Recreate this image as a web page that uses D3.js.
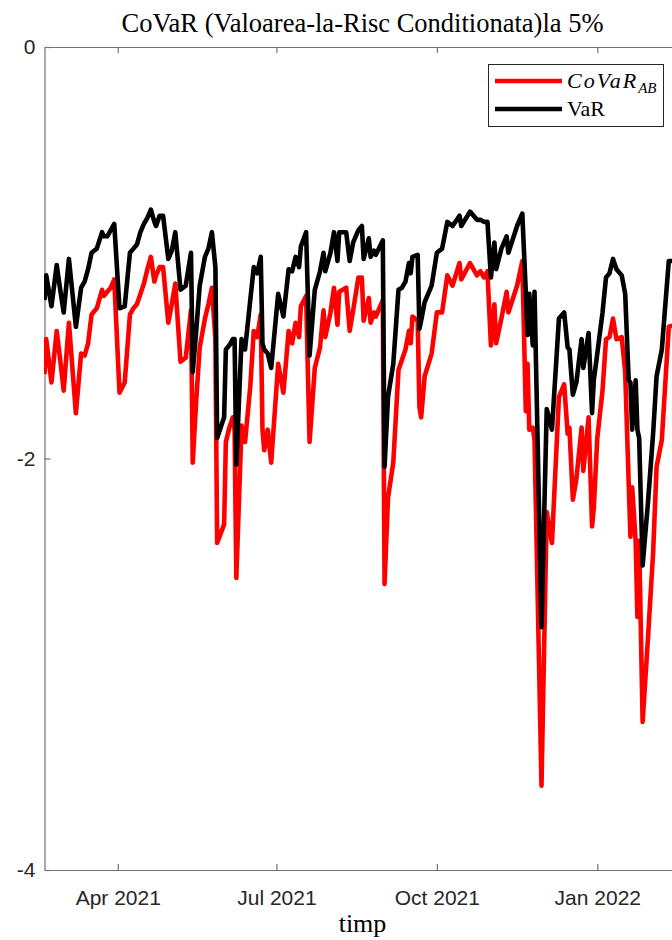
<!DOCTYPE html>
<html>
<head>
<meta charset="utf-8">
<script src="https://cdn.jsdelivr.net/npm/d3@7"></script>
<style>
  body { margin: 0; background: #fff; }
  svg { display: block; }
</style>
</head>
<body>
<div id="chart"></div>
<script>
// dates of the readings (two series share them)
var dates = [
  "2021-02-18","2021-02-19","2021-02-22","2021-02-25","2021-02-27","2021-03-01","2021-03-04","2021-03-08",
  "2021-03-11","2021-03-13","2021-03-15","2021-03-17","2021-03-20","2021-03-23","2021-03-24","2021-03-26",
  "2021-03-28","2021-03-30","2021-04-02","2021-04-05","2021-04-08","2021-04-10","2021-04-12","2021-04-14",
  "2021-04-16","2021-04-18","2021-04-20","2021-04-22","2021-04-23","2021-04-25","2021-04-27","2021-04-30",
  "2021-05-02","2021-05-04","2021-05-07","2021-05-10","2021-05-13","2021-05-14","2021-05-16","2021-05-18",
  "2021-05-21","2021-05-23","2021-05-25","2021-05-27","2021-05-28","2021-06-01","2021-06-02","2021-06-04",
  "2021-06-06","2021-06-07","2021-06-08","2021-06-11","2021-06-13","2021-06-16","2021-06-18","2021-06-20",
  "2021-06-22","2021-06-23","2021-06-24","2021-06-26","2021-06-28","2021-07-02","2021-07-05","2021-07-08",
  "2021-07-10","2021-07-12","2021-07-14","2021-07-15","2021-07-18","2021-07-20","2021-07-23","2021-07-26",
  "2021-07-28","2021-07-29","2021-08-01","2021-08-03","2021-08-05","2021-08-06","2021-08-10","2021-08-12",
  "2021-08-14","2021-08-17","2021-08-19","2021-08-20","2021-08-23","2021-08-24","2021-08-26","2021-08-27",
  "2021-08-31","2021-09-01","2021-09-03","2021-09-06","2021-09-09","2021-09-11","2021-09-13","2021-09-15",
  "2021-09-16","2021-09-17","2021-09-20","2021-09-21","2021-09-22","2021-09-24","2021-09-28","2021-10-01",
  "2021-10-04","2021-10-07","2021-10-10","2021-10-14","2021-10-15","2021-10-20","2021-10-24","2021-10-26",
  "2021-10-28","2021-10-30","2021-11-01","2021-11-03","2021-11-04","2021-11-07","2021-11-10","2021-11-11",
  "2021-11-16","2021-11-19","2021-11-21","2021-11-22","2021-11-23","2021-11-25","2021-11-26","2021-11-30",
  "2021-12-03","2021-12-06","2021-12-10","2021-12-13","2021-12-15","2021-12-16","2021-12-18","2021-12-20",
  "2021-12-23","2021-12-24","2021-12-27","2021-12-29","2021-12-30","2022-01-01","2022-01-04","2022-01-06",
  "2022-01-08","2022-01-10","2022-01-12","2022-01-15","2022-01-17","2022-01-19","2022-01-20","2022-01-21",
  "2022-01-23","2022-01-24","2022-01-25","2022-01-27","2022-01-30","2022-02-02","2022-02-04","2022-02-07",
  "2022-02-11","2022-02-15"
];

var varValues = [
  -1.23,-1.11,-1.26,-1.06,-1.18,-1.29,-1.03,-1.36,
  -1.17,-1.14,-1.08,-1.00,-0.98,-0.90,-0.92,-0.92,
  -0.89,-0.86,-1.27,-1.26,-1.00,-0.98,-0.96,-0.90,
  -0.86,-0.83,-0.79,-0.85,-0.87,-0.82,-0.82,-1.03,
  -0.99,-0.90,-1.18,-1.16,-1.00,-1.58,-1.38,-1.16,
  -1.02,-0.98,-0.90,-1.07,-1.90,-1.80,-1.47,-1.45,
  -1.42,-1.42,-2.03,-1.42,-1.47,-1.23,-1.07,-1.10,
  -1.02,-1.44,-1.47,-1.49,-1.56,-1.20,-1.31,-1.08,
  -1.09,-1.02,-1.07,-0.97,-0.90,-1.50,-1.18,-1.09,
  -1.00,-1.09,-1.00,-0.90,-1.04,-0.90,-0.90,-1.04,
  -0.95,-0.89,-0.87,-1.03,-0.93,-1.02,-0.99,-1.01,
  -0.94,-2.04,-1.70,-1.54,-1.18,-1.17,-1.14,-1.05,
  -1.10,-1.02,-1.01,-1.37,-1.33,-1.24,-1.16,-1.00,
  -0.98,-0.85,-0.87,-0.82,-0.87,-0.80,-0.84,-0.84,
  -0.85,-0.85,-1.12,-0.95,-1.08,-0.98,-0.92,-1.00,
  -0.87,-0.81,-1.19,-1.40,-1.20,-1.45,-1.19,-2.82,
  -1.76,-1.86,-1.32,-1.29,-1.46,-1.47,-1.69,-1.63,
  -1.42,-1.56,-1.39,-1.78,-1.62,-1.49,-1.29,-1.12,
  -1.10,-1.03,-1.08,-1.11,-1.20,-1.62,-1.63,-1.86,
  -1.62,-1.86,-1.90,-2.52,-2.22,-1.88,-1.60,-1.47,
  -1.04,-1.04
];

var covarValues = [
  -1.59,-1.42,-1.63,-1.38,-1.52,-1.67,-1.34,-1.78,
  -1.49,-1.50,-1.44,-1.30,-1.27,-1.18,-1.21,-1.19,
  -1.17,-1.13,-1.68,-1.63,-1.30,-1.27,-1.25,-1.20,
  -1.15,-1.08,-1.02,-1.14,-1.11,-1.07,-1.07,-1.34,
  -1.25,-1.15,-1.53,-1.51,-1.28,-2.02,-1.72,-1.46,
  -1.32,-1.25,-1.17,-1.42,-2.41,-2.32,-1.92,-1.85,
  -1.80,-1.86,-2.58,-1.84,-1.92,-1.65,-1.38,-1.41,
  -1.30,-1.86,-1.96,-1.86,-2.02,-1.54,-1.68,-1.38,
  -1.44,-1.34,-1.41,-1.26,-1.21,-1.92,-1.56,-1.46,
  -1.28,-1.41,-1.29,-1.17,-1.35,-1.19,-1.17,-1.38,
  -1.28,-1.12,-1.12,-1.33,-1.22,-1.34,-1.29,-1.31,
  -1.23,-2.61,-2.19,-2.02,-1.57,-1.52,-1.47,-1.38,
  -1.44,-1.31,-1.33,-1.75,-1.80,-1.60,-1.49,-1.29,
  -1.29,-1.11,-1.16,-1.05,-1.13,-1.05,-1.11,-1.09,
  -1.12,-1.09,-1.45,-1.25,-1.44,-1.32,-1.19,-1.29,
  -1.16,-1.04,-1.77,-1.54,-1.86,-1.85,-1.91,-3.59,
  -2.26,-2.41,-1.70,-1.64,-1.88,-1.85,-2.20,-2.10,
  -1.85,-2.06,-1.80,-2.33,-2.24,-1.90,-1.67,-1.42,
  -1.41,-1.32,-1.42,-1.41,-1.58,-2.12,-2.38,-2.14,
  -2.40,-2.77,-2.40,-3.28,-2.88,-2.46,-2.04,-1.91,
  -1.36,-1.35
];

var xTickDates = ["2021-04-01", "2021-07-01", "2021-10-01", "2022-01-01"];
var yTickValues = [-4, -2, 0];
var seriesNames = ["CoVaR", "VaR"];
var titleText = "CoVaR (Valoarea-la-Risc Conditionata)la 5%";
var xLabelText = "timp";

var width = 672, height = 940;
var margin = { left: 44, top: 47, bottom: 70 };
var plotRight = 681; // axes box runs a little past the window

var parse = d3.timeParse("%Y-%m-%d");

var svg = d3.select("#chart").append("svg")
  .attr("width", width)
  .attr("height", height);

var x = d3.scaleTime()
  .domain([parse("2021-02-18"), parse("2022-02-18")])
  .range([margin.left + 0.5, plotRight]);

var y = d3.scaleLinear()
  .domain([-4, 0])
  .range([height - margin.bottom, margin.top]);

var axisColor = "#737373";
var tickFont = "'Liberation Sans', Arial, Helvetica, sans-serif";
var serifFont = "'Liberation Serif', 'Times New Roman', serif";

// axes (drawn under the lines, like matlab)
var xTicks = xTickDates.map(parse);

var gBottom = svg.append("g")
  .attr("transform", "translate(0," + y(-4) + ")")
  .call(d3.axisBottom(x).tickValues(xTicks).tickSize(-6).tickSizeOuter(0)
    .tickPadding(20).tickFormat(d3.timeFormat("%b %Y")));

var gTop = svg.append("g")
  .attr("transform", "translate(0," + y(0) + ")")
  .call(d3.axisTop(x).tickValues(xTicks).tickSize(-6).tickSizeOuter(0)
    .tickFormat(""));

var gLeft = svg.append("g")
  .attr("transform", "translate(" + (margin.left + 0.5) + ",0)")
  .call(d3.axisLeft(y).tickValues(yTickValues).tickSize(-6).tickSizeOuter(0)
    .tickPadding(9).tickFormat(function(d) { return String(d); }));

[gBottom, gTop, gLeft].forEach(function(g) {
  g.select(".domain").attr("stroke", axisColor).attr("stroke-width", 1.2);
  g.selectAll(".tick line").attr("stroke", axisColor).attr("stroke-width", 1.2);
  g.selectAll(".tick text")
    .attr("fill", "#262626")
    .style("font-family", tickFont)
    .style("font-size", "21px");
});

// series
var clip = svg.append("clipPath").attr("id", "plotclip")
  .append("rect")
  .attr("x", margin.left)
  .attr("y", margin.top)
  .attr("width", plotRight - margin.left)
  .attr("height", y(-4) - y(0));

function seriesData(vals) {
  return dates.map(function(d, i) { return { date: parse(d), value: vals[i] }; });
}

var line = d3.line()
  .x(function(d) { return x(d.date); })
  .y(function(d) { return y(d.value); });

var gLines = svg.append("g").attr("clip-path", "url(#plotclip)");

gLines.append("path")
  .attr("d", line(seriesData(covarValues)))
  .attr("fill", "none")
  .attr("stroke", "#ff0000")
  .attr("stroke-width", 4.6)
  .attr("stroke-linejoin", "round");

gLines.append("path")
  .attr("d", line(seriesData(varValues)))
  .attr("fill", "none")
  .attr("stroke", "#000000")
  .attr("stroke-width", 4.6)
  .attr("stroke-linejoin", "round");

// title and x label
var midX = (margin.left + plotRight) / 2;

svg.append("text")
  .attr("x", midX)
  .attr("y", 32)
  .attr("text-anchor", "middle")
  .style("font-family", serifFont)
  .style("font-size", "26.5px")
  .attr("fill", "#000")
  .text(titleText);

svg.append("text")
  .attr("x", midX)
  .attr("y", 932)
  .attr("text-anchor", "middle")
  .style("font-family", serifFont)
  .style("font-size", "26px")
  .attr("fill", "#000")
  .text(xLabelText);

// legend
var legend = svg.append("g");

legend.append("rect")
  .attr("x", 488.5)
  .attr("y", 64.5)
  .attr("width", 175)
  .attr("height", 62)
  .attr("fill", "#fff")
  .attr("stroke", "#262626")
  .attr("stroke-width", 1);

var legendColors = ["#ff0000", "#000000"];
var legendRows = [81, 109];

seriesNames.forEach(function(name, i) {
  legend.append("line")
    .attr("x1", 495).attr("x2", 562)
    .attr("y1", legendRows[i]).attr("y2", legendRows[i])
    .attr("stroke", legendColors[i])
    .attr("stroke-width", 4.5);

  var t = legend.append("text")
    .attr("x", 567)
    .attr("y", legendRows[i] + 7)
    .style("font-family", serifFont)
    .style("font-size", "22px")
    .attr("fill", "#000");

  if (i === 0) {
    t.append("tspan").style("font-style", "italic").attr("letter-spacing", "2").text(name);
    t.append("tspan").style("font-style", "italic").style("font-size", "15px")
      .attr("dy", 5).text("AB");
  } else {
    t.text(name);
  }
});
</script>
</body>
</html>
